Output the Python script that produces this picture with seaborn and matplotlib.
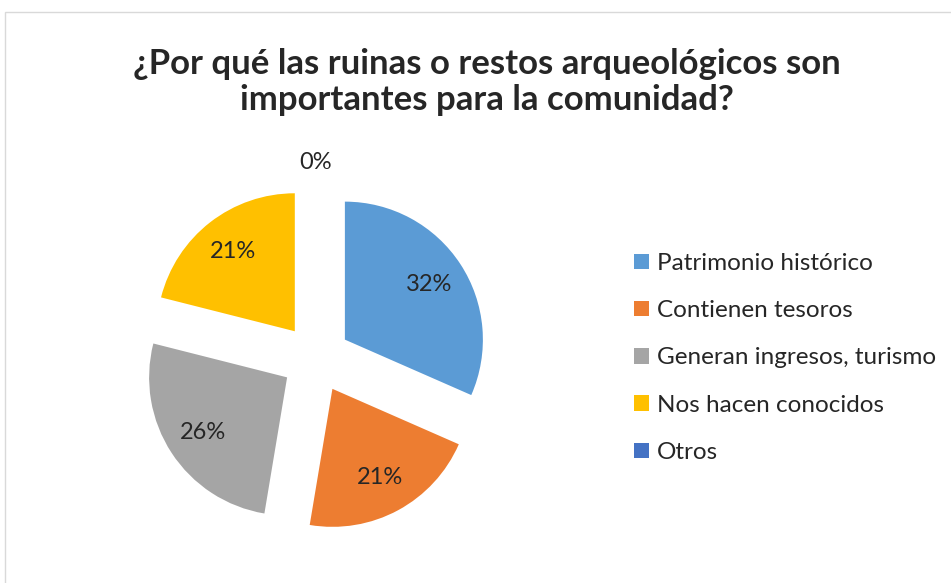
import numpy as np
import seaborn as sns
import matplotlib.pyplot as plt
from matplotlib.patches import Rectangle

# data
categories = ["Patrimonio histórico", "Contienen tesoros",
              "Generan ingresos, turismo", "Nos hacen conocidos", "Otros"]
values = [6, 4, 5, 4, 0]
colors = ["#5B9BD5", "#ED7D31", "#A5A5A5", "#FFC000", "#4472C4"]
title = "¿Por qué las ruinas o restos arqueológicos son\nimportantes para la comunidad?"

sns.set_theme(style="white")
plt.rcParams['font.family'] = ['Lato', 'DejaVu Sans']

fig = plt.figure(figsize=(9.51, 5.83), dpi=100)
W, H = 951, 583

# thin grey chart border (top/left visible)
fig.patches.append(Rectangle((5 / W, -0.1), 1.2, (H - 12) / H + 0.1,
                             transform=fig.transFigure, fill=False,
                             edgecolor="#D9D9D9", linewidth=1.0))

# pie axes: centre at (316, 358) px, radius 138 px
L = 1.6
side = 2 * L * 138
cx, cy = 316, 358.5
ax = fig.add_axes([(cx - side / 2) / W, (H - cy - side / 2) / H, side / W, side / H])

explode = [0.25] * len(values)
wedges, texts, autotexts = ax.pie(
    values, colors=colors, explode=explode, startangle=90, counterclock=False,
    autopct=lambda p: f"{p:.0f}%", pctdistance=0.73,
    wedgeprops=dict(linewidth=0),
    textprops=dict(fontsize=17, color="#262626"))
ax.set_xlim(-L, L)
ax.set_ylim(-L, L)
ax.set_aspect("equal")
ax.axis("off")

# the empty slice gets its label outside the pie
for v, w, t in zip(values, wedges, autotexts):
    if v == 0:
        ang = np.deg2rad(w.theta1)
        t.set_position(((1.17 + 0.25) * np.cos(ang), (1.17 + 0.25) * np.sin(ang)))

fig.text(0.512, 0.86, title, ha="center", va="center", fontsize=25,
         fontweight="bold", color="#262626", linespacing=1.15)

leg = fig.legend(wedges, categories, loc="upper left",
                 bbox_to_anchor=(634 / W, 1 - 253 / H), frameon=False,
                 fontsize=17.5, handlelength=0.6, handleheight=0.6,
                 handletextpad=0.35, labelspacing=1.08, borderaxespad=0,
                 borderpad=0)
for txt in leg.get_texts():
    txt.set_color("#262626")

fig.savefig("out.png", dpi=100)
